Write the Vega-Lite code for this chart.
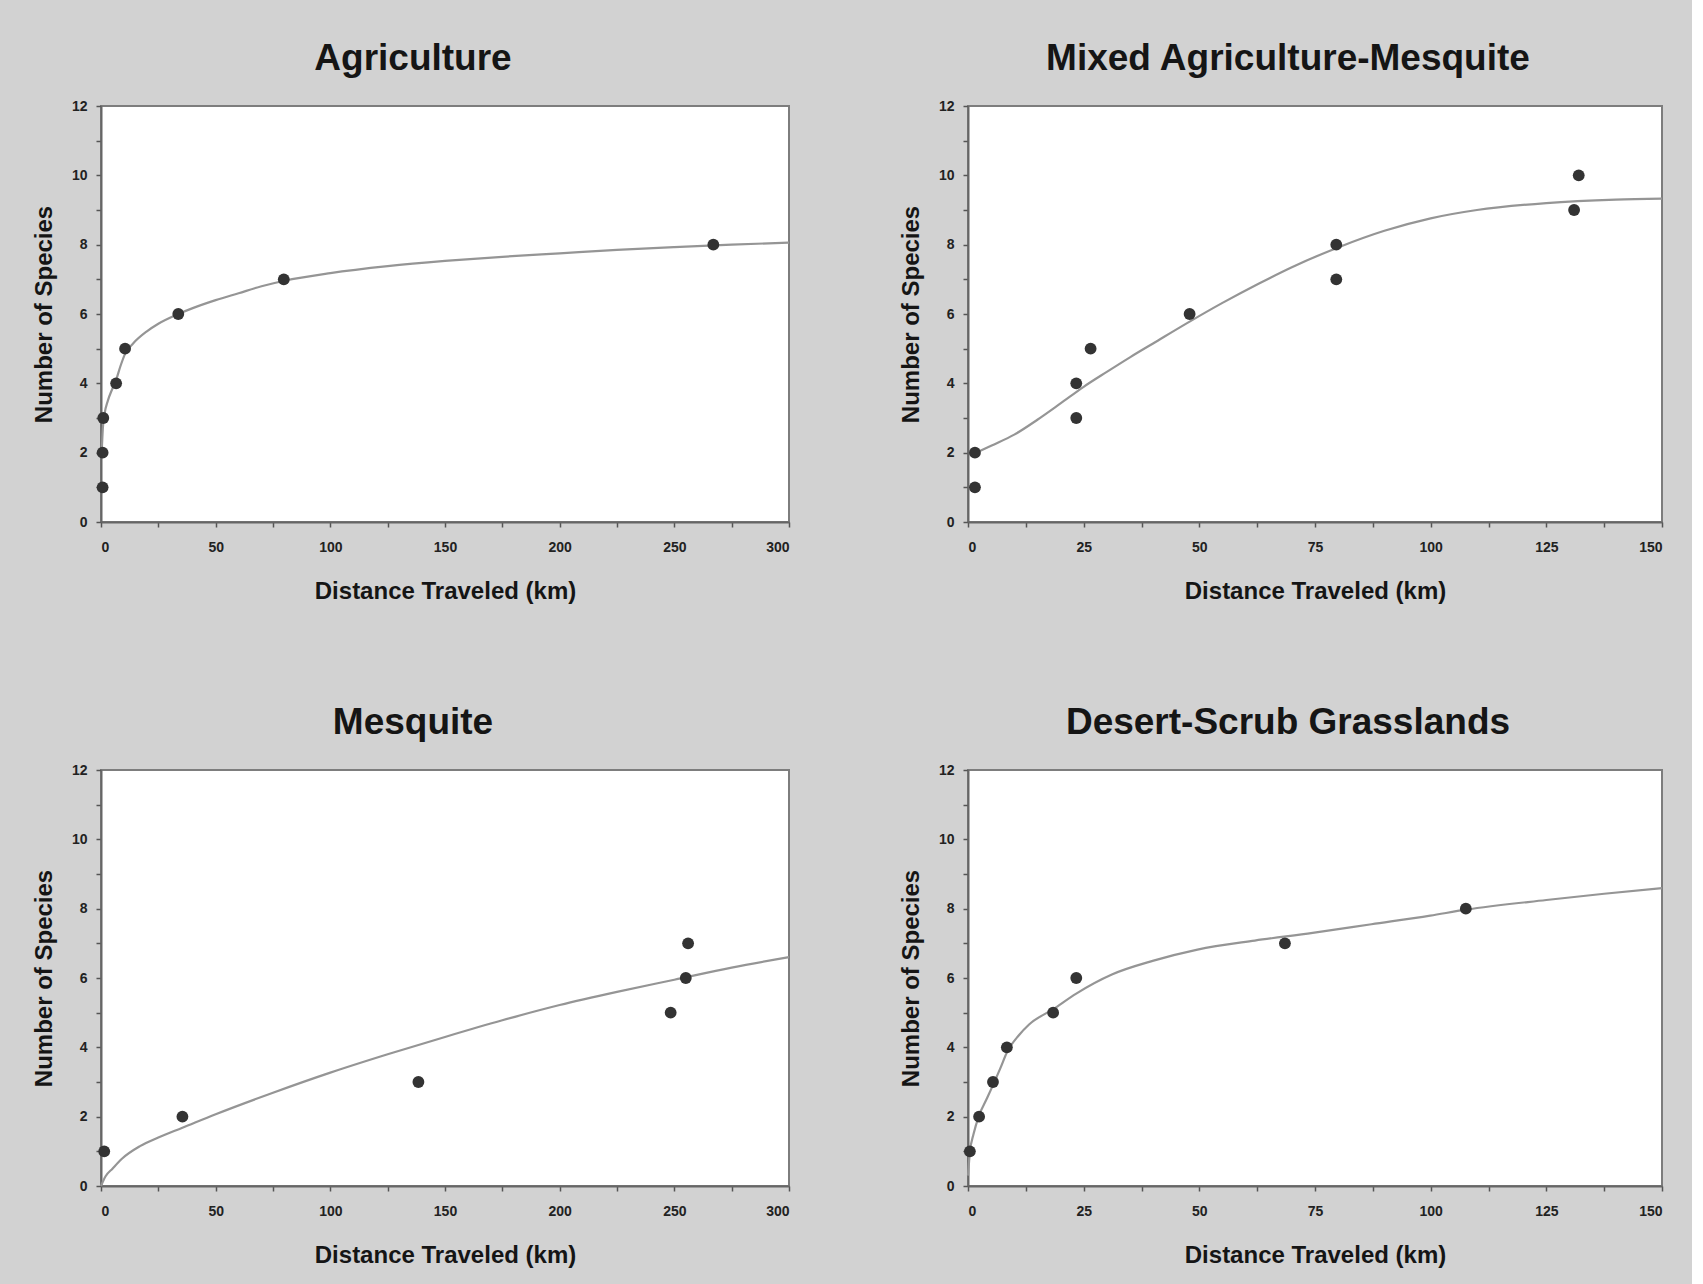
{
  "$schema": "https://vega.github.io/schema/vega-lite/v6.json",
  "background": "#d2d2d2",
  "padding": {"left": 31, "top": 39, "right": 24, "bottom": 20},
  "datasets": {
    "pts": [
      {"panel": "A", "x": 0.7, "y": 1}, {"panel": "A", "x": 0.7, "y": 2}, {"panel": "A", "x": 1, "y": 3},
      {"panel": "A", "x": 6.6, "y": 4}, {"panel": "A", "x": 10.5, "y": 5}, {"panel": "A", "x": 33.7, "y": 6},
      {"panel": "A", "x": 79.7, "y": 7}, {"panel": "A", "x": 267, "y": 8},
      {"panel": "B", "x": 1.5, "y": 1}, {"panel": "B", "x": 1.5, "y": 2}, {"panel": "B", "x": 23.4, "y": 3},
      {"panel": "B", "x": 23.4, "y": 4}, {"panel": "B", "x": 26.5, "y": 5}, {"panel": "B", "x": 47.9, "y": 6},
      {"panel": "B", "x": 79.6, "y": 7}, {"panel": "B", "x": 79.6, "y": 8}, {"panel": "B", "x": 131, "y": 9},
      {"panel": "B", "x": 132, "y": 10},
      {"panel": "C", "x": 1.4, "y": 1}, {"panel": "C", "x": 35.5, "y": 2}, {"panel": "C", "x": 138.4, "y": 3},
      {"panel": "C", "x": 248.4, "y": 5}, {"panel": "C", "x": 255, "y": 6}, {"panel": "C", "x": 256, "y": 7},
      {"panel": "D", "x": 0.4, "y": 1}, {"panel": "D", "x": 2.4, "y": 2}, {"panel": "D", "x": 5.4, "y": 3},
      {"panel": "D", "x": 8.4, "y": 4}, {"panel": "D", "x": 18.4, "y": 5}, {"panel": "D", "x": 23.4, "y": 6},
      {"panel": "D", "x": 68.5, "y": 7}, {"panel": "D", "x": 107.6, "y": 8}
    ],
    "fit": [
      {"panel": "A", "x": 0.3, "y": 2.0}, {"panel": "A", "x": 0.8, "y": 2.7}, {"panel": "A", "x": 1.5, "y": 3.1},
      {"panel": "A", "x": 3, "y": 3.5}, {"panel": "A", "x": 5, "y": 3.85}, {"panel": "A", "x": 6.6, "y": 4.1},
      {"panel": "A", "x": 8.5, "y": 4.5}, {"panel": "A", "x": 10.5, "y": 4.85}, {"panel": "A", "x": 14, "y": 5.15},
      {"panel": "A", "x": 20, "y": 5.5}, {"panel": "A", "x": 25, "y": 5.72}, {"panel": "A", "x": 33.7, "y": 6.0},
      {"panel": "A", "x": 40, "y": 6.17}, {"panel": "A", "x": 50, "y": 6.4}, {"panel": "A", "x": 60, "y": 6.6},
      {"panel": "A", "x": 70, "y": 6.8}, {"panel": "A", "x": 80, "y": 6.96}, {"panel": "A", "x": 100, "y": 7.18},
      {"panel": "A", "x": 125, "y": 7.38}, {"panel": "A", "x": 150, "y": 7.53}, {"panel": "A", "x": 175, "y": 7.65},
      {"panel": "A", "x": 200, "y": 7.75}, {"panel": "A", "x": 225, "y": 7.85}, {"panel": "A", "x": 250, "y": 7.93},
      {"panel": "A", "x": 275, "y": 8.0}, {"panel": "A", "x": 300, "y": 8.06},
      {"panel": "B", "x": 1.5, "y": 1.98}, {"panel": "B", "x": 5, "y": 2.2}, {"panel": "B", "x": 10, "y": 2.52},
      {"panel": "B", "x": 15, "y": 2.95}, {"panel": "B", "x": 20, "y": 3.42}, {"panel": "B", "x": 25, "y": 3.9},
      {"panel": "B", "x": 30, "y": 4.33}, {"panel": "B", "x": 35, "y": 4.75}, {"panel": "B", "x": 40, "y": 5.15},
      {"panel": "B", "x": 47.9, "y": 5.78}, {"panel": "B", "x": 55, "y": 6.32}, {"panel": "B", "x": 62.9, "y": 6.88},
      {"panel": "B", "x": 70, "y": 7.35}, {"panel": "B", "x": 80, "y": 7.92}, {"panel": "B", "x": 90, "y": 8.4},
      {"panel": "B", "x": 100, "y": 8.76}, {"panel": "B", "x": 110, "y": 9.0}, {"panel": "B", "x": 125, "y": 9.2},
      {"panel": "B", "x": 140, "y": 9.3}, {"panel": "B", "x": 150, "y": 9.33},
      {"panel": "C", "x": 0, "y": 0}, {"panel": "C", "x": 2, "y": 0.28}, {"panel": "C", "x": 5, "y": 0.5},
      {"panel": "C", "x": 9, "y": 0.78}, {"panel": "C", "x": 17, "y": 1.15}, {"panel": "C", "x": 25, "y": 1.4},
      {"panel": "C", "x": 35.5, "y": 1.68}, {"panel": "C", "x": 50, "y": 2.07}, {"panel": "C", "x": 75, "y": 2.69},
      {"panel": "C", "x": 100, "y": 3.27}, {"panel": "C", "x": 125, "y": 3.8}, {"panel": "C", "x": 150, "y": 4.3},
      {"panel": "C", "x": 175, "y": 4.78}, {"panel": "C", "x": 200, "y": 5.22}, {"panel": "C", "x": 225, "y": 5.6},
      {"panel": "C", "x": 250, "y": 5.95}, {"panel": "C", "x": 275, "y": 6.3}, {"panel": "C", "x": 300, "y": 6.6},
      {"panel": "D", "x": 0, "y": 0.3}, {"panel": "D", "x": 0.4, "y": 0.97}, {"panel": "D", "x": 1.2, "y": 1.5},
      {"panel": "D", "x": 2.4, "y": 2.04}, {"panel": "D", "x": 4, "y": 2.5}, {"panel": "D", "x": 5.4, "y": 2.91},
      {"panel": "D", "x": 7, "y": 3.4}, {"panel": "D", "x": 8.4, "y": 3.85}, {"panel": "D", "x": 11, "y": 4.35},
      {"panel": "D", "x": 13.2, "y": 4.66}, {"panel": "D", "x": 18.4, "y": 5.1}, {"panel": "D", "x": 23.4, "y": 5.55},
      {"panel": "D", "x": 31.1, "y": 6.1}, {"panel": "D", "x": 40.1, "y": 6.5}, {"panel": "D", "x": 49.6, "y": 6.82},
      {"panel": "D", "x": 62, "y": 7.08}, {"panel": "D", "x": 74.5, "y": 7.3}, {"panel": "D", "x": 87.2, "y": 7.55},
      {"panel": "D", "x": 99.9, "y": 7.8}, {"panel": "D", "x": 107.6, "y": 7.97}, {"panel": "D", "x": 125, "y": 8.25},
      {"panel": "D", "x": 137.5, "y": 8.43}, {"panel": "D", "x": 150, "y": 8.59}
    ]
  },
  "spacing": 99,
  "vconcat": [
    {
      "spacing": 103,
      "hconcat": [
        {
          "width": 688, "height": 416,
          "title": {"text": "Agriculture", "dx": -32},
          "encoding": {
            "x": {"field": "x", "type": "quantitative", "scale": {"domain": [0, 300], "nice": false},
                  "axis": {"title": "Distance Traveled (km)", "values": [0, 25, 50, 75, 100, 125, 150, 175, 200, 225, 250, 275, 300],
                           "labelExpr": "datum.value % 50 === 0 ? datum.label : ''"}},
            "y": {"field": "y", "type": "quantitative", "scale": {"domain": [0, 12], "nice": false},
                  "axis": {"title": "Number of Species", "values": [0, 1, 2, 3, 4, 5, 6, 7, 8, 9, 10, 11, 12],
                           "labelExpr": "datum.value % 2 === 0 ? datum.label : ''"}}
          },
          "layer": [
            {"data": {"name": "fit"}, "transform": [{"filter": "datum.panel === 'A'"}],
             "mark": {"type": "line", "color": "#959595", "strokeWidth": 2.2, "interpolate": "monotone"}},
            {"data": {"name": "pts"}, "transform": [{"filter": "datum.panel === 'A'"}],
             "mark": {"type": "point", "filled": true, "size": 140, "color": "#333333", "opacity": 1}}
          ]
        },
        {
          "width": 694, "height": 416,
          "title": {"text": "Mixed Agriculture-Mesquite", "dx": -27},
          "encoding": {
            "x": {"field": "x", "type": "quantitative", "scale": {"domain": [0, 150], "nice": false},
                  "axis": {"title": "Distance Traveled (km)", "format": "d", "values": [0, 12.5, 25, 37.5, 50, 62.5, 75, 87.5, 100, 112.5, 125, 137.5, 150],
                           "labelExpr": "datum.value % 25 === 0 ? datum.label : ''"}},
            "y": {"field": "y", "type": "quantitative", "scale": {"domain": [0, 12], "nice": false},
                  "axis": {"title": "Number of Species", "values": [0, 1, 2, 3, 4, 5, 6, 7, 8, 9, 10, 11, 12],
                           "labelExpr": "datum.value % 2 === 0 ? datum.label : ''"}}
          },
          "layer": [
            {"data": {"name": "fit"}, "transform": [{"filter": "datum.panel === 'B'"}],
             "mark": {"type": "line", "color": "#959595", "strokeWidth": 2.2, "interpolate": "monotone"}},
            {"data": {"name": "pts"}, "transform": [{"filter": "datum.panel === 'B'"}],
             "mark": {"type": "point", "filled": true, "size": 140, "color": "#333333", "opacity": 1}}
          ]
        }
      ]
    },
    {
      "spacing": 103,
      "hconcat": [
        {
          "width": 688, "height": 416,
          "title": {"text": "Mesquite", "dx": -32},
          "encoding": {
            "x": {"field": "x", "type": "quantitative", "scale": {"domain": [0, 300], "nice": false},
                  "axis": {"title": "Distance Traveled (km)", "values": [0, 25, 50, 75, 100, 125, 150, 175, 200, 225, 250, 275, 300],
                           "labelExpr": "datum.value % 50 === 0 ? datum.label : ''"}},
            "y": {"field": "y", "type": "quantitative", "scale": {"domain": [0, 12], "nice": false},
                  "axis": {"title": "Number of Species", "values": [0, 1, 2, 3, 4, 5, 6, 7, 8, 9, 10, 11, 12],
                           "labelExpr": "datum.value % 2 === 0 ? datum.label : ''"}}
          },
          "layer": [
            {"data": {"name": "fit"}, "transform": [{"filter": "datum.panel === 'C'"}],
             "mark": {"type": "line", "color": "#959595", "strokeWidth": 2.2, "interpolate": "monotone"}},
            {"data": {"name": "pts"}, "transform": [{"filter": "datum.panel === 'C'"}],
             "mark": {"type": "point", "filled": true, "size": 140, "color": "#333333", "opacity": 1}}
          ]
        },
        {
          "width": 694, "height": 416,
          "title": {"text": "Desert-Scrub Grasslands", "dx": -27},
          "encoding": {
            "x": {"field": "x", "type": "quantitative", "scale": {"domain": [0, 150], "nice": false},
                  "axis": {"title": "Distance Traveled (km)", "format": "d", "values": [0, 12.5, 25, 37.5, 50, 62.5, 75, 87.5, 100, 112.5, 125, 137.5, 150],
                           "labelExpr": "datum.value % 25 === 0 ? datum.label : ''"}},
            "y": {"field": "y", "type": "quantitative", "scale": {"domain": [0, 12], "nice": false},
                  "axis": {"title": "Number of Species", "values": [0, 1, 2, 3, 4, 5, 6, 7, 8, 9, 10, 11, 12],
                           "labelExpr": "datum.value % 2 === 0 ? datum.label : ''"}}
          },
          "layer": [
            {"data": {"name": "fit"}, "transform": [{"filter": "datum.panel === 'D'"}],
             "mark": {"type": "line", "color": "#959595", "strokeWidth": 2.2, "interpolate": "monotone"}},
            {"data": {"name": "pts"}, "transform": [{"filter": "datum.panel === 'D'"}],
             "mark": {"type": "point", "filled": true, "size": 140, "color": "#333333", "opacity": 1}}
          ]
        }
      ]
    }
  ],
  "config": {
    "font": "Liberation Sans",
    "view": {"fill": "white", "stroke": "#7d7d7d", "strokeWidth": 2},
    "title": {"fontSize": 37, "fontWeight": "bold", "color": "#151515", "offset": 21, "anchor": "middle"},
    "axis": {
      "grid": false,
      "labelFont": "Liberation Sans", "labelFontWeight": "bold", "labelFontSize": 14, "labelColor": "#222222",
      "titleFont": "Liberation Sans", "titleFontWeight": "bold", "titleFontSize": 24, "titleColor": "#151515",
      "domainColor": "#666666", "domainWidth": 2, "tickColor": "#555555", "tickSize": 5, "tickWidth": 1.5
    },
    "axisY": {"labelPadding": 9, "titlePadding": 15},
    "axisX": {"labelPadding": 13, "titlePadding": 25, "labelAngle": 0}
  }
}
